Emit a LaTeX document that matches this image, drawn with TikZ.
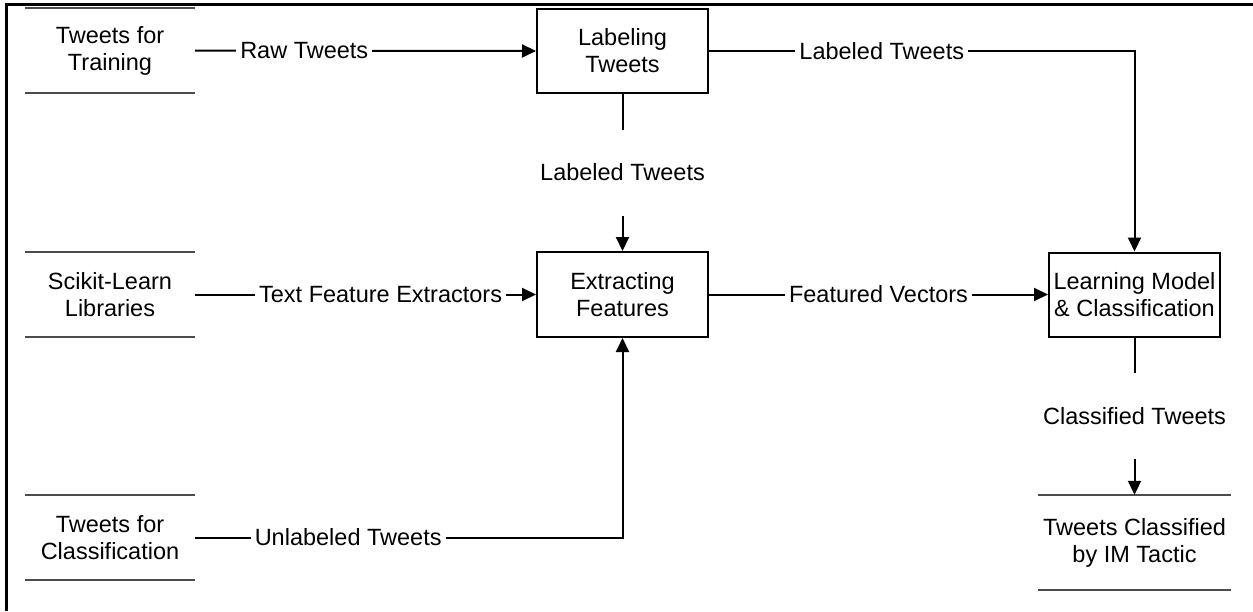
\documentclass[tikz,border=0pt]{standalone}
\usepackage{fontspec}
\setmainfont{Liberation Sans}
\usetikzlibrary{arrows.meta}

\tikzset{
  proc/.style={draw, line width=2pt, minimum width=171pt, minimum height=84pt,
    inner sep=2pt, align=center},
  storeline/.style={draw=black!70, line width=1.6pt},
  store/.style={minimum width=#1, minimum height=85pt, inner sep=2pt, align=center,
    append after command={
      (\tikzlastnode.north west) edge[storeline] (\tikzlastnode.north east)
      (\tikzlastnode.south west) edge[storeline] (\tikzlastnode.south east)}},
  store/.default=170pt,
  flow/.style={line width=2pt, -{Triangle[length=14pt,width=13pt]}},
  lbl/.style={fill=white, inner xsep=4pt, inner ysep=2pt},
  vlbl/.style={fill=white, inner xsep=4pt, minimum height=86pt},
}

\begin{document}
\begin{tikzpicture}[x=1pt, y=-1pt, font=\fontsize{23.5}{27}\selectfont]
  \useasboundingbox (0,0) rectangle (1253,611);

  % outer frame (left and top edges)
  \draw[line width=3pt] (6,611) -- (6,4) -- (1253,4);

  % external sources and sink
  \node[store] (train) at (110,50.5) {Tweets for\\Training};
  \node[store] (sklearn) at (110,294.5) {Scikit-Learn\\Libraries};
  \node[store] (unl) at (110,537.5) {Tweets for\\Classification};
  \node[store=193pt, minimum height=95pt] (out) at (1134.5,542.5) {Tweets Classified\\by IM Tactic};

  % processes
  \node[proc] (label) at (622.5,51) {Labeling\\Tweets};
  \node[proc, minimum height=85pt] (extract) at (622.5,294.5) {Extracting\\Features};
  \node[proc, minimum height=84pt] (learn) at (1134.5,294.5) {Learning Model\\\& Classification};

  % data flows
  \draw[flow] (train.east) -- node[lbl, pos=.32] {Raw Tweets} (label.west);
  \draw[flow] (label.east) -| node[lbl, pos=.203] {Labeled Tweets} (learn.north);
  \draw[flow] (label.south) -- node[vlbl] {Labeled Tweets} (extract.north);
  \draw[flow] (sklearn.east) -- node[lbl, pos=.544] {Text Feature Extractors} (extract.west);
  \draw[flow] (extract.east) -- node[lbl, pos=.5] {Featured Vectors} (learn.west);
  \draw[flow] (unl.east) -| node[lbl, pos=.179] {Unlabeled Tweets} (extract.south);
  \draw[flow] (learn.south) -- node[vlbl] {Classified Tweets} (out.north);
\end{tikzpicture}
\end{document}
